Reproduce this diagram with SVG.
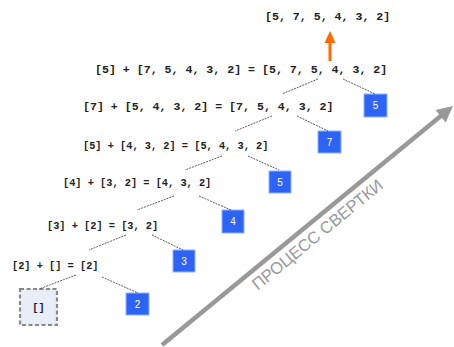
<svg xmlns="http://www.w3.org/2000/svg" width="454" height="347" viewBox="0 0 454 347">
<style>
.eq{font-family:"Liberation Mono","DejaVu Sans Mono",monospace;font-weight:bold;fill:#222}
.big{font-size:11.6px}
.sm{font-size:10.3px}
.box{fill:#2e64f6;stroke:#8fb0ff;stroke-width:1}
.bt{font-family:"Liberation Sans",Arial,sans-serif;font-size:10px;fill:#fff;text-anchor:middle}
.conn line{stroke:#333;stroke-width:0.8;stroke-dasharray:2 1}
</style>
<rect width="454" height="347" fill="#fff"/>

<g id="result">
<text class="eq big" x="265" y="20">[5, 7, 5, 4, 3, 2]</text>
</g>
<g id="orange-arrow">
<line x1="330" y1="61" x2="330" y2="42" stroke="#ff6a00" stroke-width="3"/>
<polygon points="330,31 335.5,43 324.5,43" fill="#ff6a00"/>
</g>

<g id="row1"><text class="eq big" x="95" y="73">[5] + [7, 5, 4, 3, 2] = [5, 7, 5, 4, 3, 2]</text></g>
<g id="row2"><text class="eq big" x="83" y="110">[7] + [5, 4, 3, 2] = [7, 5, 4, 3, 2]</text></g>
<g id="row3"><text class="eq sm" x="83" y="149">[5] + [4, 3, 2] = [5, 4, 3, 2]</text></g>
<g id="row4"><text class="eq sm" x="63" y="186">[4] + [3, 2] = [4, 3, 2]</text></g>
<g id="row5"><text class="eq sm" x="47" y="229">[3] + [2] = [3, 2]</text></g>
<g id="row6"><text class="eq sm" x="12" y="269">[2] + [] = [2]</text></g>

<g id="box5a"><rect class="box" x="364" y="94" width="23" height="23"/><text class="bt" x="375.5" y="109">5</text></g>
<g id="box7"><rect class="box" x="318" y="131" width="23" height="22"/><text class="bt" x="329.5" y="145.5">7</text></g>
<g id="box5b"><rect class="box" x="269" y="171" width="22" height="22"/><text class="bt" x="280" y="185.5">5</text></g>
<g id="box4"><rect class="box" x="222" y="210" width="22" height="23"/><text class="bt" x="233" y="225">4</text></g>
<g id="box3"><rect class="box" x="173" y="250" width="22" height="22"/><text class="bt" x="184" y="264.5">3</text></g>
<g id="box2"><rect class="box" x="126" y="293" width="23" height="22"/><text class="bt" x="137.5" y="307.5">2</text></g>
<g id="empty"><rect x="20" y="289" width="37" height="36" fill="#e8edf7" stroke="#888" stroke-width="2.2" stroke-dasharray="4 2.5"/><text class="eq sm" x="38.5" y="310.5" text-anchor="middle">[]</text></g>

<g class="conn" id="connectors">
<line x1="318" y1="79" x2="282" y2="94"/><line x1="343" y1="79" x2="375" y2="94"/>
<line x1="272" y1="116" x2="235" y2="131"/><line x1="297" y1="116" x2="328" y2="131"/>
<line x1="222" y1="156" x2="185" y2="170"/><line x1="248" y1="156" x2="279" y2="170"/>
<line x1="174" y1="196" x2="137" y2="210"/><line x1="199" y1="196" x2="231" y2="210"/>
<line x1="126" y1="235" x2="89" y2="250"/><line x1="152" y1="235" x2="183" y2="250"/>
<line x1="76" y1="275" x2="39" y2="289"/><line x1="102" y1="277" x2="138" y2="293"/>
</g>

<g id="fold-arrow">
<line x1="162" y1="345" x2="442" y2="115" stroke="#999" stroke-width="4.5"/>
<polygon points="453,106 445.7,122.4 435.5,110" fill="#999"/>
<text x="321" y="239" transform="rotate(-39.3 321 239)" text-anchor="middle" font-family="Liberation Sans,Arial,sans-serif" font-size="16.6" fill="#999">ПРОЦЕСС СВЕРТКИ</text>
</g>
</svg>
